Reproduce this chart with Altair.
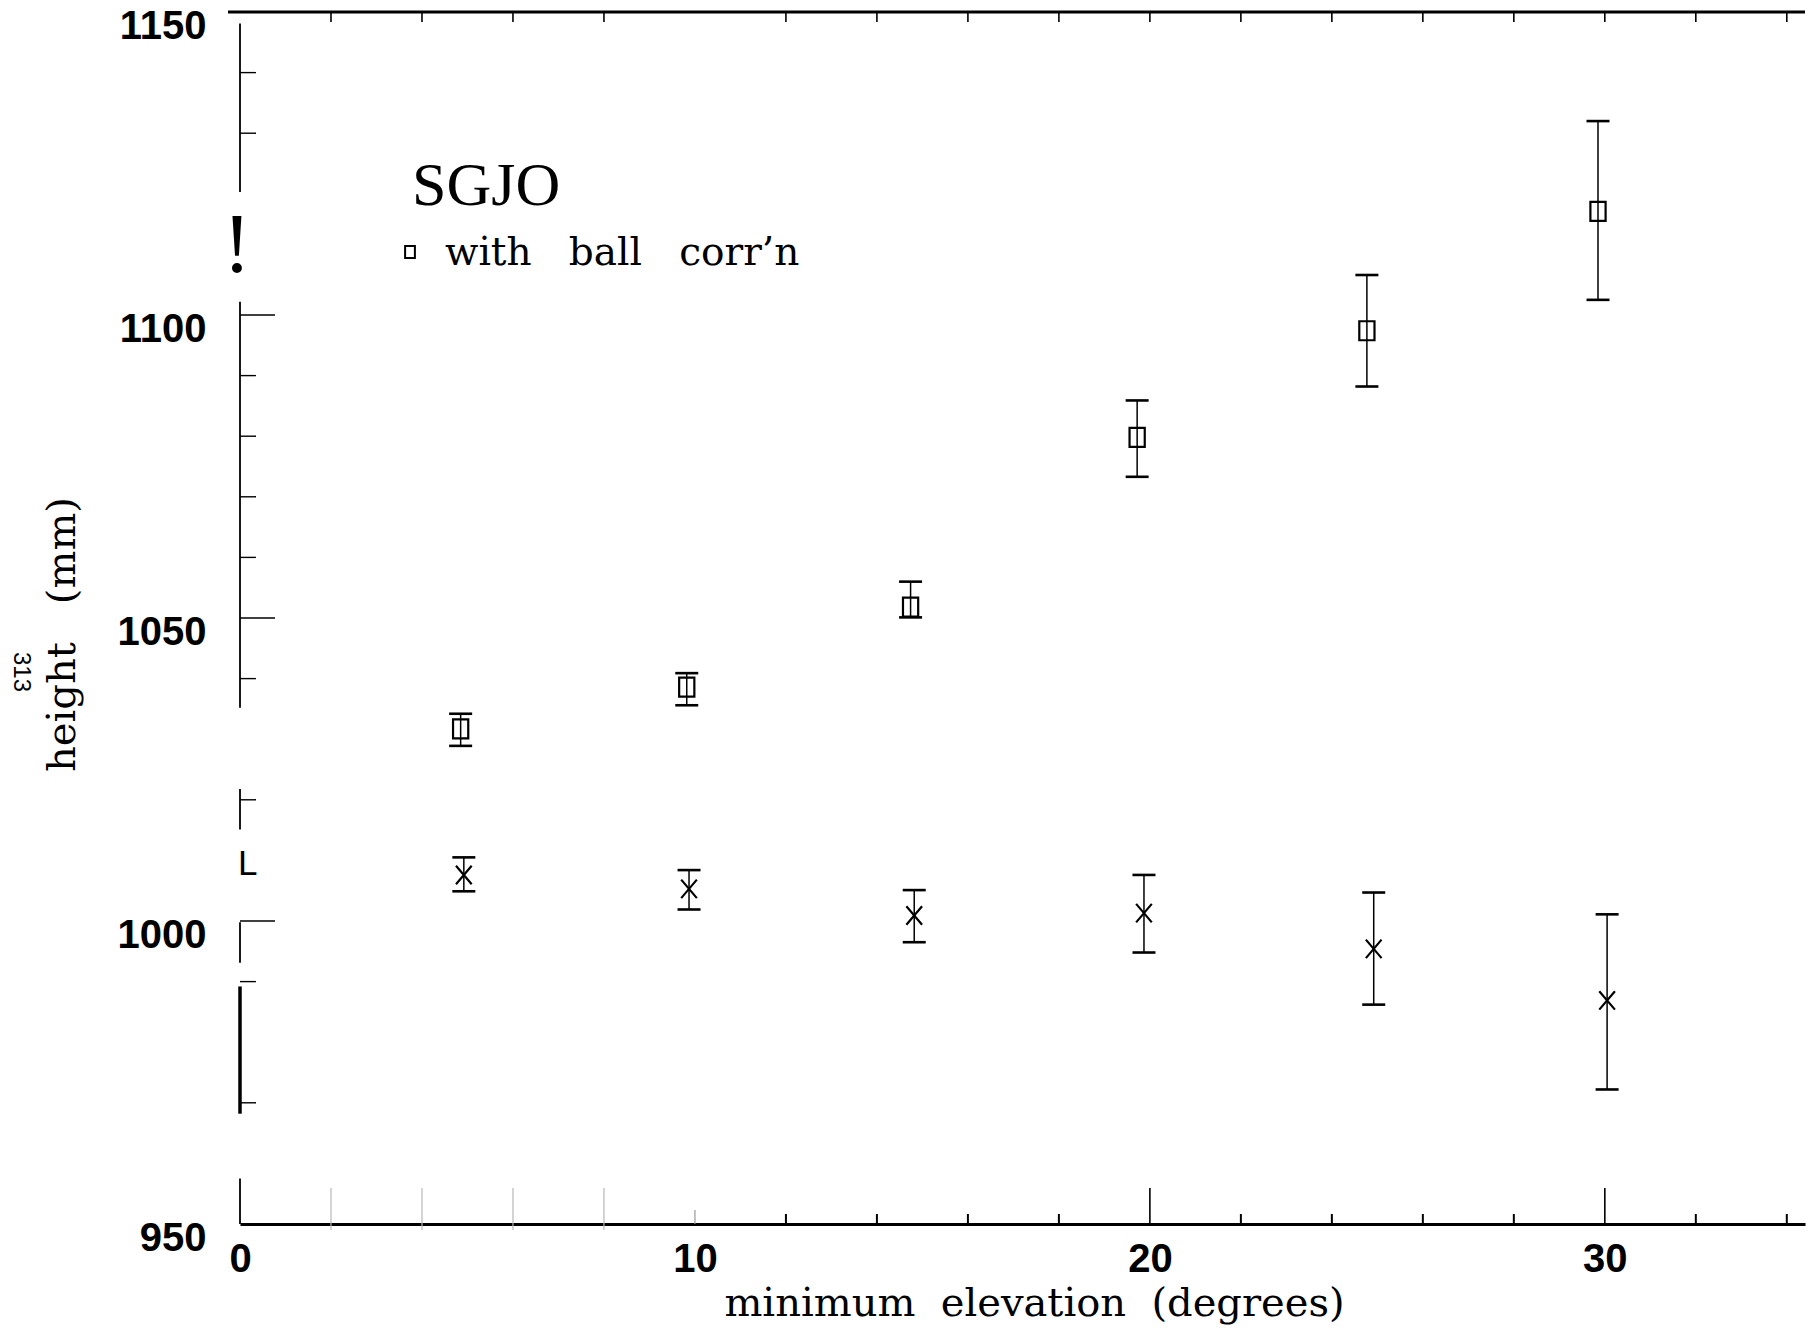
import altair as alt
import pandas as pd

# ---- data ----
elev_ball = [4.85, 9.82, 14.74, 19.72, 24.77, 29.85]
ball_h = [1031.7, 1038.6, 1051.8, 1079.8, 1097.4, 1117.1]
ball_hi = [1034.2, 1040.9, 1056.0, 1085.9, 1106.6, 1132.0]
ball_lo = [1028.9, 1035.6, 1050.1, 1073.3, 1088.2, 1102.5]
elev_nob = [4.92, 9.87, 14.82, 19.87, 24.92, 30.05]
nob_h = [1007.6, 1005.3, 1000.9, 1001.3, 995.4, 986.9]
nob_hi = [1010.5, 1008.4, 1005.1, 1007.6, 1004.7, 1001.1]
nob_lo = [1004.9, 1001.9, 996.5, 994.8, 986.2, 972.2]

x_labels = [0, 10, 20, 30]
y_labels = [950, 1000, 1050, 1100, 1150]
x_minor = [12, 14, 16, 18, 22, 24, 26, 28, 32, 34]
x_gray = [2, 4, 6, 8]
x_major = [20, 30]
x_top = [2, 4, 6, 8, 12, 14, 16, 18, 20, 22, 24, 26, 28, 30, 32, 34]
y_minor = [970, 990, 1020, 1040, 1060, 1070, 1080, 1090, 1130, 1140]
y_major = [1000, 1050, 1100]
# pieces of the (broken) left axis line, as value ranges
seg_top = [1148.1, 1102.2, 1021.8, 999.8, 957.5]
seg_bot = [1120.3, 1035.2, 1015.1, 993.1, 950.0]
thick_top = [989.2]
thick_bot = [968.2]

W, H = 1565, 1212
XDOM = [0, 34.4]
YDOM = [950, 1150]

SQUARE = "M-0.8,-1H0.8V1H-0.8Z"
XMARK = "M-0.85,-1L0.85,1M-0.85,1L0.85,-1"
NB = "\u00a0"

xaxis = alt.Axis(values=x_labels, ticks=False, tickSize=0, grid=False,
                 domainWidth=3, domainColor="black", format="d",
                 labelFont="Liberation Sans", labelFontWeight="bold",
                 labelFontSize=40, labelColor="black", labelPadding=15,
                 labelFlush=False, labelBaseline="top",
                 title="minimum" + NB * 2 + "elevation" + NB * 2 + "(degrees)",
                 titleFont="DejaVu Serif", titleFontSize=40, titleFontWeight="normal",
                 titleColor="black", titleX=794, titleY=91,
                 titleAlign="center", titleBaseline="alphabetic")
yaxis = alt.Axis(values=y_labels, ticks=False, tickSize=0, grid=False,
                 domain=False, format="d",
                 labelFont="Liberation Sans", labelFontWeight="bold",
                 labelFontSize=40, labelColor="black", labelPadding=34,
                 labelOffset=14,
                 title="height" + NB * 3 + "(mm)",
                 titleFont="DejaVu Serif", titleFontSize=40, titleFontWeight="normal",
                 titleColor="black", titleAngle=270, titleX=-166, titleY=622,
                 titleAlign="center", titleBaseline="alphabetic")


def X(f):
    return alt.X(f, type="quantitative", scale=alt.Scale(domain=XDOM, nice=False, zero=False), axis=xaxis)


def Y(f):
    return alt.Y(f, type="quantitative", scale=alt.Scale(domain=YDOM, nice=False, zero=False), axis=yaxis)


pts = pd.DataFrame({
    "elev": elev_ball + elev_nob,
    "h": ball_h + nob_h,
    "lo": ball_lo + nob_lo,
    "hi": ball_hi + nob_hi,
    "kind": ["ball"] * 6 + ["noball"] * 6,
})
caps = pd.DataFrame({
    "elev": elev_ball * 2 + elev_nob * 2,
    "v": ball_lo + ball_hi + nob_lo + nob_hi,
})

base = alt.Chart(pts)

bars = base.mark_rule(color="black", strokeWidth=1.5).encode(
    x=X("elev"), y=Y("lo"), y2="hi")
capm = alt.Chart(caps).mark_tick(orient="horizontal", size=23, thickness=2.6,
                                 color="black", opacity=1).encode(x=X("elev"), y=Y("v"))
squares = base.transform_filter(alt.datum.kind == "ball").mark_point(
    shape=SQUARE, size=361, filled=False, strokeWidth=2.2, color="black", opacity=1
).encode(x=X("elev"), y=Y("h"))
crosses = base.transform_filter(alt.datum.kind == "noball").mark_point(
    shape=XMARK, size=340, filled=False, strokeWidth=2.2, color="black", opacity=1
).encode(x=X("elev"), y=Y("h"))

# broken left axis line
segs = alt.Chart(pd.DataFrame({"a": seg_top, "b": seg_bot})).mark_rule(
    color="black", strokeWidth=1.8).encode(y=Y("a"), y2="b", x=alt.value(0))
thick = alt.Chart(pd.DataFrame({"a": thick_top, "b": thick_bot})).mark_rule(
    color="black", strokeWidth=3.5).encode(y=Y("a"), y2="b", x=alt.value(0))

# tick marks (inward)
ymaj = alt.Chart(pd.DataFrame({"v": y_major})).mark_rule(color="black", strokeWidth=1.6).encode(
    y=Y("v"), x=alt.value(0), x2=alt.value(35))
ymin = alt.Chart(pd.DataFrame({"v": y_minor})).mark_rule(color="black", strokeWidth=1.4).encode(
    y=Y("v"), x=alt.value(0), x2=alt.value(16))
xmin = alt.Chart(pd.DataFrame({"e": x_minor})).mark_rule(color="black", strokeWidth=2).encode(
    x=X("e"), y=alt.value(H), y2=alt.value(H - 10))
xgray = alt.Chart(pd.DataFrame({"e": x_gray})).mark_rule(color="#b8b8b8", strokeWidth=1.2).encode(
    x=X("e"), y=alt.value(H + 6), y2=alt.value(H - 36))
xmaj = alt.Chart(pd.DataFrame({"e": x_major})).mark_rule(color="black", strokeWidth=1.6).encode(
    x=X("e"), y=alt.value(H), y2=alt.value(H - 36))
x10 = alt.Chart(pd.DataFrame({"e": [10]})).mark_rule(color="#999999", strokeWidth=1.2).encode(
    x=X("e"), y=alt.value(H), y2=alt.value(H - 14))
xtop = alt.Chart(pd.DataFrame({"e": x_top})).mark_rule(color="black", strokeWidth=1.6).encode(
    x=X("e"), y=alt.value(0), y2=alt.value(10))
top_line = alt.Chart(pd.DataFrame({"e": [0]})).mark_rule(color="black", strokeWidth=3).encode(
    x=alt.value(-12), x2=alt.value(W), y=alt.value(0))


def label(txt, x, y, font, size, align="left", baseline="alphabetic", angle=0, weight="normal"):
    return alt.Chart(pd.DataFrame({"t": [txt]})).mark_text(
        font=font, fontSize=size, align=align, baseline=baseline, angle=angle,
        fontWeight=weight, color="black"
    ).encode(text="t:N", x=alt.value(x), y=alt.value(y))


sgjo = label("SGJO", 172, 193, "Liberation Serif", 62)
legsq = alt.Chart(pd.DataFrame({"t": ["with ball corr’n"]})).mark_point(
    shape=SQUARE, size=150, filled=False, strokeWidth=2, color="black", opacity=1
).encode(x=alt.value(170), y=alt.value(240))
legtx = label("with" + NB * 3 + "ball" + NB * 3 + "corr’n", 205, 253, "DejaVu Serif", 39)
t313 = label("313", -219, 660, "Liberation Sans", 24, align="center", baseline="middle", angle=90)
excl = label("!", -3, 260, "Liberation Serif", 84, align="center")
ell = label("L", -2, 863, "Liberation Sans", 35)

chart = alt.layer(
    bars, capm, squares, crosses, segs, thick,
    ymaj, ymin, xmin, xgray, xmaj, x10, xtop, top_line,
    sgjo, legsq, legtx, t313, excl, ell,
).properties(
    width=W, height=H,
    autosize=alt.AutoSizeParams(type="none"),
    padding={"left": 232, "top": 4, "right": 5, "bottom": 101},
    background="white",
).configure_view(strokeWidth=0)

chart.save("out.html", embed_options={"renderer": "svg", "actions": False})
